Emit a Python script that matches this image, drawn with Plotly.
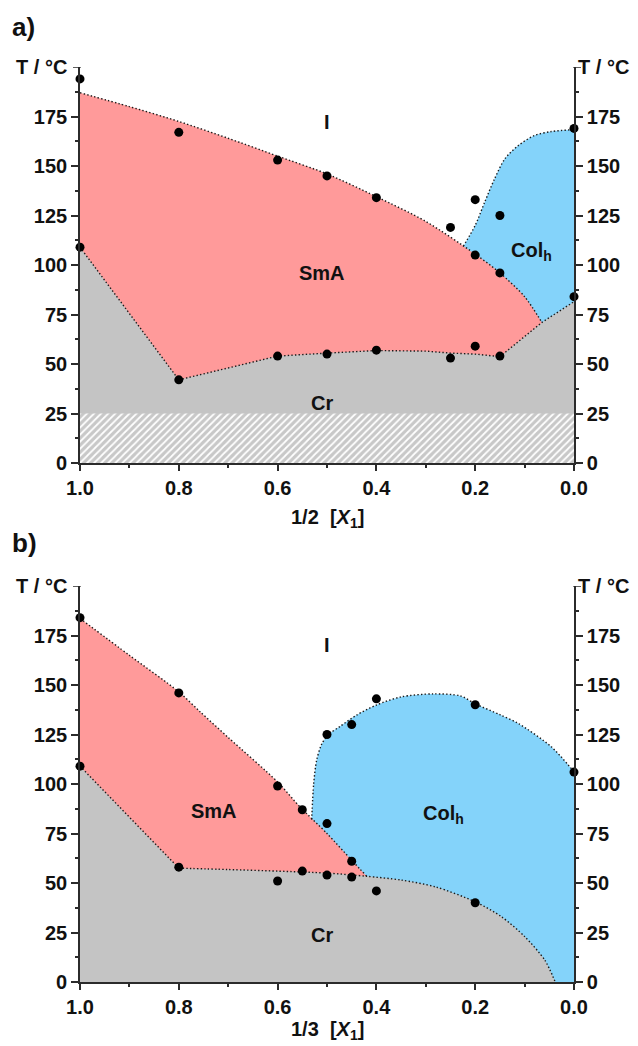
import plotly.graph_objects as go

# ---------------- panel a) : 1/2 [X1] ----------------
a_pts_x = [1.0, 1.0, 0.8, 0.8, 0.6, 0.6, 0.5, 0.5, 0.4, 0.4, 0.25, 0.25, 0.2, 0.2, 0.2, 0.15, 0.15, 0.15, 0.0, 0.0]
a_pts_T = [194, 109, 167, 42, 153, 54, 145, 55, 134, 57, 119, 53, 133, 105, 59, 125, 96, 54, 169, 84]

a_sma_top_x = [1.0, 0.9, 0.8, 0.7, 0.6, 0.5, 0.4, 0.3, 0.2, 0.15, 0.1, 0.065]
a_sma_top_T = [187, 180, 172.5, 164, 155, 146, 134.5, 122, 105.5, 96, 84, 71]

a_colh_top_x = [0.224, 0.2, 0.181, 0.161, 0.14, 0.113, 0.08, 0.046, 0.0]
a_colh_top_T = [109.5, 120, 131.6, 143.4, 153.6, 160.3, 165.4, 167.4, 168.4]

a_cr_top_x = [1.0, 0.8, 0.7, 0.6, 0.5, 0.4, 0.3, 0.25, 0.2, 0.15, 0.065, 0.0]
a_cr_top_T = [109, 42, 48, 54, 55.5, 56.8, 56.5, 55.5, 55, 53.7, 71, 81.5]

a_hatch_x = [1.0, 1.0, 0.0, 0.0]
a_hatch_T = [0, 25, 25, 0]

a_labels = ["I", "SmA", "Col<sub>h</sub>", "Cr"]
a_lab_x = [0.5, 0.51, 0.086, 0.51]
a_lab_T = [172, 96, 107, 30.5]

# ---------------- panel b) : 1/3 [X1] ----------------
b_pts_x = [1.0, 1.0, 0.8, 0.8, 0.6, 0.6, 0.55, 0.55, 0.5, 0.5, 0.5, 0.45, 0.45, 0.45, 0.4, 0.4, 0.2, 0.2, 0.0]
b_pts_T = [184, 109, 146, 58, 99, 51, 87, 56, 125, 80, 54, 130, 61, 53, 143, 46, 140, 40, 106]

b_sma_top_x = [1.0, 0.9, 0.8, 0.757, 0.7, 0.6, 0.555, 0.5, 0.45, 0.42]
b_sma_top_T = [183.6, 165, 146.5, 136.5, 123.5, 101, 88.5, 75, 61.5, 53.5]

b_colh_top_x = [0.531, 0.527, 0.521, 0.511, 0.497, 0.474, 0.44, 0.4, 0.35, 0.285, 0.23, 0.2, 0.15, 0.113, 0.046, 0.0]
b_colh_top_T = [82, 100, 112, 120, 125, 129, 134.8, 139.9, 144, 145.5, 144.5, 140.5, 135, 130.6, 118.8, 106.2]

b_cr_left_x = [1.0, 0.8, 0.79]
b_cr_left_T = [109, 57.5, 57.4]
b_cr_top_x = [0.8, 0.7, 0.6, 0.5, 0.42, 0.35, 0.28, 0.2, 0.147, 0.1, 0.059, 0.038]
b_cr_top_T = [57.5, 56.8, 56, 55, 53.4, 51.5, 48, 40.5, 33, 23, 11, 0]

b_labels = ["I", "SmA", "Col<sub>h</sub>", "Cr"]
b_lab_x = [0.5, 0.728, 0.265, 0.51]
b_lab_T = [170, 86.5, 84.5, 23.5]

# axis ticks
x_ticks = [1.0, 0.8, 0.6, 0.4, 0.2, 0.0]
x_ticktext = ["1.0", "0.8", "0.6", "0.4", "0.2", "0.0"]
x_minor = [0.9, 0.7, 0.5, 0.3, 0.1]
y_ticks = [0, 25, 50, 75, 100, 125, 150, 175]
y_ticktext = ["0", "25", "50", "75", "100", "125", "150", "175"]
y_minor = [12.5, 37.5, 62.5, 87.5, 112.5, 137.5, 162.5, 187.5]
y_top = 200

# ---------------- styling ----------------
PINK = "rgb(255,154,154)"
BLUE = "rgb(132,211,250)"
GREY = "rgb(196,196,196)"
AX = "#2b2b2b"
FONT = "Liberation Sans, Arial, sans-serif"
W, H = 638, 1046
L, R = 80, 64
DOT = "1.4px,2.2px"

fig = go.Figure()


def fill(x, y, color, xa, ya, shape="linear", mode="tozeroy"):
    fig.add_trace(go.Scatter(x=x, y=y, xaxis=xa, yaxis=ya, mode="lines",
                             line=dict(width=0, shape=shape, smoothing=0.8),
                             fill=mode, fillcolor=color, hoverinfo="skip",
                             showlegend=False))


def dotted(x, y, xa, ya, shape="linear"):
    fig.add_trace(go.Scatter(x=x, y=y, xaxis=xa, yaxis=ya, mode="lines",
                             line=dict(width=1.4, color="#1a1a1a", dash=DOT,
                                       shape=shape, smoothing=0.8),
                             hoverinfo="skip", showlegend=False))


def points(x, y, xa, ya):
    fig.add_trace(go.Scatter(x=x, y=y, xaxis=xa, yaxis=ya, mode="markers",
                             marker=dict(size=9, color="black"),
                             cliponaxis=False, hoverinfo="skip", showlegend=False))


# ---- panel a ----
fill(a_colh_top_x, a_colh_top_T, BLUE, "x", "y", "spline")
fill(a_sma_top_x, a_sma_top_T, PINK, "x", "y", "spline")
fill(a_cr_top_x, a_cr_top_T, GREY, "x", "y")
fig.add_trace(go.Scatter(x=a_hatch_x, y=a_hatch_T, xaxis="x", yaxis="y", mode="lines",
                         line=dict(width=0), fill="toself", fillcolor=GREY,
                         fillpattern=dict(shape="/", bgcolor="rgb(200,200,200)",
                                          fgcolor="white", size=5, solidity=0.35),
                         hoverinfo="skip", showlegend=False))
dotted(a_sma_top_x, a_sma_top_T, "x", "y", "spline")
dotted(a_colh_top_x, a_colh_top_T, "x", "y", "spline")
dotted(a_cr_top_x, a_cr_top_T, "x", "y")
points(a_pts_x, a_pts_T, "x", "y")
fig.add_trace(go.Scatter(x=[0.5], y=[-10], xaxis="x", yaxis="y2", mode="markers",
                         marker=dict(opacity=0), hoverinfo="skip", showlegend=False))

# ---- panel b ----
fill(b_colh_top_x, b_colh_top_T, BLUE, "x2", "y3", "spline")
fill(b_sma_top_x, b_sma_top_T, PINK, "x2", "y3", "spline")
fill(b_cr_left_x, b_cr_left_T, GREY, "x2", "y3")
fill(b_cr_top_x, b_cr_top_T, GREY, "x2", "y3", "spline")
dotted(b_sma_top_x, b_sma_top_T, "x2", "y3", "spline")
dotted(b_colh_top_x, b_colh_top_T, "x2", "y3", "spline")
dotted(b_cr_left_x[:2], b_cr_left_T[:2], "x2", "y3")
dotted(b_cr_top_x, b_cr_top_T, "x2", "y3", "spline")
points(b_pts_x, b_pts_T, "x2", "y3")
fig.add_trace(go.Scatter(x=[0.5], y=[-10], xaxis="x2", yaxis="y4", mode="markers",
                         marker=dict(opacity=0), hoverinfo="skip", showlegend=False))

tickfont = dict(family=FONT, size=20, color="#111", weight="bold")


def xax(anchor):
    return dict(anchor=anchor, domain=[0, 1], range=[1.0, 0.0], tickmode="array",
                tickvals=x_ticks, ticktext=x_ticktext, ticks="outside", ticklen=6,
                tickwidth=1.5, tickcolor=AX, showline=True, linewidth=1.6, linecolor=AX,
                showgrid=False, zeroline=False, tickfont=tickfont, automargin=False,
                minor=dict(tickmode="array", tickvals=x_minor, ticks="outside",
                           ticklen=3.5, tickwidth=1.5, tickcolor=AX, showgrid=False))


def yax(domain=None, overlay=None, side="left", anchor="x"):
    d = dict(anchor=anchor, range=[0, 200], tickmode="array", tickvals=y_ticks,
             ticktext=y_ticktext, ticks="outside", ticklen=7, tickwidth=1.5,
             tickcolor=AX, showline=True, linewidth=1.6, linecolor=AX, showgrid=False,
             zeroline=False, tickfont=tickfont, side=side, automargin=False,
             minor=dict(tickmode="array", tickvals=y_minor, ticks="outside",
                        ticklen=3.5, tickwidth=1.5, tickcolor=AX, showgrid=False))
    if domain is not None:
        d["domain"] = domain
    if overlay is not None:
        d["overlaying"] = overlay
    return d


top_dom = [1 - 463 / H, 1 - 67 / H]
bot_dom = [1 - 982 / H, 1 - 586 / H]

fig.update_layout(
    width=W, height=H, margin=dict(l=L, r=R, t=0, b=0),
    paper_bgcolor="white", plot_bgcolor="white", template="none",
    showlegend=False,
    xaxis=xax("y"),
    yaxis=yax(top_dom, anchor="x"),
    yaxis2=yax(overlay="y", side="right", anchor="x"),
    xaxis2=xax("y3"),
    yaxis3=yax(bot_dom, anchor="x2"),
    yaxis4=yax(overlay="y3", side="right", anchor="x2"),
)


def px(xp):
    return (xp - L) / (W - L - R)


def py(yp):
    return 1 - yp / H


# major tick at the top of each T axis (label replaced by "T / °C")
shapes = []
for yref in ("y", "y3"):
    shapes.append(dict(type="line", xref="paper", yref=yref, x0=px(73), x1=px(80.8),
                       y0=y_top, y1=y_top, line=dict(color=AX, width=1.5)))
    shapes.append(dict(type="line", xref="paper", yref=yref, x0=px(573.2), x1=px(581),
                       y0=y_top, y1=y_top, line=dict(color=AX, width=1.5)))
fig.update_layout(shapes=shapes)

labfont = dict(family=FONT, size=20, color="#111", weight="bold")
ann = []
for t, x, y in zip(a_labels, a_lab_x, a_lab_T):
    ann.append(dict(text=t, x=x, y=y, xref="x", yref="y", showarrow=False, font=labfont))
for t, x, y in zip(b_labels, b_lab_x, b_lab_T):
    ann.append(dict(text=t, x=x, y=y, xref="x2", yref="y3", showarrow=False, font=labfont))

panel_font = dict(family=FONT, size=26, color="#111", weight="bold")
ann += [
    dict(text="a)", x=px(10), y=py(27), xref="paper", yref="paper", xanchor="left",
         yanchor="middle", showarrow=False, font=panel_font),
    dict(text="b)", x=px(10), y=py(543), xref="paper", yref="paper", xanchor="left",
         yanchor="middle", showarrow=False, font=panel_font),
]
for yy in (67, 586):
    ann.append(dict(text="T / °C", x=px(69), y=py(yy), xref="paper", yref="paper",
                    xanchor="right", yanchor="middle", showarrow=False, font=labfont))
    ann.append(dict(text="T / °C", x=px(576), y=py(yy), xref="paper", yref="paper",
                    xanchor="left", yanchor="middle", showarrow=False, font=labfont))
ann.append(dict(text="1/2\u00a0\u00a0[<i>X</i><sub>1</sub>]", x=px(327), y=py(518),
                xref="paper", yref="paper", xanchor="center", yanchor="middle",
                showarrow=False, font=labfont))
ann.append(dict(text="1/3\u00a0\u00a0[<i>X</i><sub>1</sub>]", x=px(327), y=py(1030),
                xref="paper", yref="paper", xanchor="center", yanchor="middle",
                showarrow=False, font=labfont))
fig.update_layout(annotations=ann)

fig.write_html("out.html")
